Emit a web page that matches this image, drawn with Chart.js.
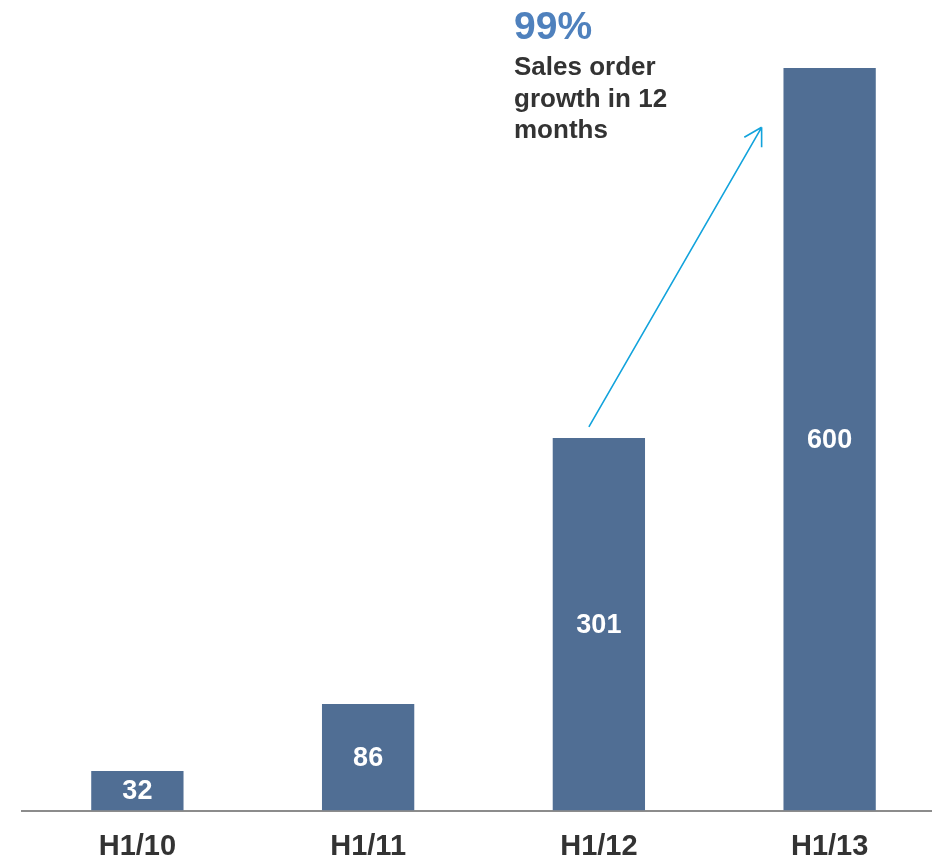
<!DOCTYPE html>
<html>
<head>
<meta charset="utf-8">
<script src="https://cdn.jsdelivr.net/npm/chart.js@4/dist/chart.umd.min.js"></script>
<style>
  html, body { margin: 0; padding: 0; background: #fff; overflow: hidden; }
  #wrap { position: relative; width: 945px; height: 883px; }
</style>
</head>
<body>
<div id="wrap"><canvas id="orders"></canvas></div>
<script>
const periods = ['H1/10', 'H1/11', 'H1/12', 'H1/13'];
const salesOrders = [32, 86, 301, 600];
const growthHeadline = '99%';
const growthText = ['Sales order', 'growth in 12', 'months'];

const barColor = '#506e94';
const arrowColor = '#12a3dc';
const font = '"Liberation Sans", Arial, sans-serif';

// white value labels, centred in each bar
const barValues = {
  id: 'barValues',
  afterDatasetsDraw(chart) {
    const ctx = chart.ctx;
    const meta = chart.getDatasetMeta(0);
    ctx.save();
    ctx.fillStyle = '#fff';
    ctx.font = 'bold 27px ' + font;
    ctx.textAlign = 'center';
    ctx.textBaseline = 'middle';
    meta.data.forEach((bar, i) => {
      ctx.fillText(String(salesOrders[i]), bar.x, (bar.y + bar.base) / 2 + 1);
    });
    ctx.restore();
  }
};

// growth arrow from H1/12 towards H1/13 plus the callout text
const growthCallout = {
  id: 'growthCallout',
  afterDraw(chart) {
    const ctx = chart.ctx;
    const meta = chart.getDatasetMeta(0);
    const y = chart.scales.y;
    const from = meta.data[2], to = meta.data[3];
    const x0 = from.x - 10, y0 = y.getPixelForValue(salesOrders[2] + 9);
    const x1 = to.x - 68, y1 = y.getPixelForValue(salesOrders[3] - 48);

    ctx.save();
    ctx.strokeStyle = arrowColor;
    ctx.lineWidth = 1.6;
    ctx.beginPath();
    ctx.moveTo(x0, y0);
    ctx.lineTo(x1, y1);
    const ang = Math.atan2(y0 - y1, x0 - x1);
    const len = 20;
    [ang - Math.PI / 6, ang + Math.PI / 6].forEach(a => {
      ctx.moveTo(x1, y1);
      ctx.lineTo(x1 + len * Math.cos(a), y1 + len * Math.sin(a));
    });
    ctx.stroke();

    ctx.textAlign = 'left';
    ctx.textBaseline = 'alphabetic';
    ctx.fillStyle = '#4f81bd';
    ctx.font = 'bold 39px ' + font;
    ctx.fillText(growthHeadline, 514, 39);
    ctx.fillStyle = '#333333';
    ctx.font = 'bold 26px ' + font;
    growthText.forEach((line, i) => ctx.fillText(line, 514, 75 + i * 31.5));
    ctx.restore();
  }
};

new Chart(document.getElementById('orders'), {
  type: 'bar',
  data: {
    labels: periods,
    datasets: [{
      data: salesOrders,
      backgroundColor: barColor,
      categoryPercentage: 1,
      barPercentage: 0.4,
    }],
  },
  options: {
    responsive: true,
    maintainAspectRatio: false,
    animation: false,
    layout: { padding: { left: 22, right: 0, top: 6, bottom: 0.5 } },
    plugins: {
      legend: { display: false },
      tooltip: { enabled: false },
    },
    scales: {
      x: {
        grid: { display: false, drawTicks: false },
        border: { display: true, color: '#8c8c8c', width: 2 },
        ticks: {
          color: '#333333',
          padding: 21.5,
          font: { family: font, size: 29, weight: 'bold', lineHeight: 1 },
        },
      },
      y: {
        display: false,
        min: 0,
        max: 650,
      },
    },
  },
  plugins: [barValues, growthCallout],
});
</script>
</body>
</html>
